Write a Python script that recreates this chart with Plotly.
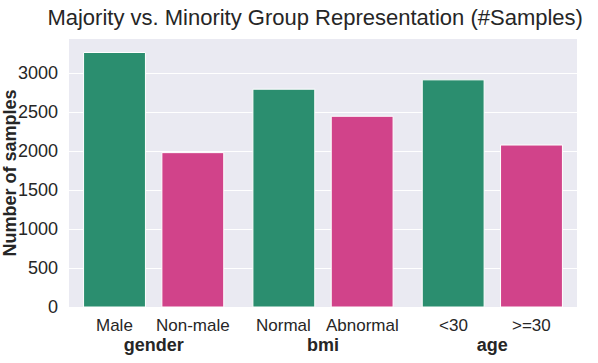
import plotly.graph_objects as go

# Attributes and their majority / minority subgroups
attributes = ['gender', 'bmi', 'age']
majority_labels = ['Male', 'Normal', '<30']
minority_labels = ['Non-male', 'Abnormal', '>=30']
majority_counts = [3265, 2794, 2914]
minority_counts = [1980, 2447, 2078]

green = '#2b8e6f'
pink = '#d1438a'
font_family = 'Arial, Liberation Sans, Helvetica, sans-serif'
text_color = '#262626'

bar_gap = 0.075
group_gap = 0.21

fig = go.Figure()

fig.add_trace(go.Bar(
    x=attributes, y=majority_counts, name='Majority',
    marker=dict(color=green, line=dict(color='white', width=1)),
))
fig.add_trace(go.Bar(
    x=attributes, y=minority_counts, name='Minority',
    marker=dict(color=pink, line=dict(color='white', width=1)),
))

# subgroup labels under each bar (offset follows the grouped-bar layout)
offset = (1 - bar_gap) / 4
annotations = []
for i, attr in enumerate(attributes):
    for lab, dx in ((majority_labels[i], -offset), (minority_labels[i], offset)):
        annotations.append(dict(
            x=i + dx, y=0, xref='x', yref='paper',
            text=lab, showarrow=False, yanchor='top', yshift=-7,
            font=dict(size=17, color=text_color, family=font_family),
        ))

fig.update_layout(
    width=598, height=363,
    margin=dict(l=69, r=21, t=39, b=56),
    paper_bgcolor='white',
    plot_bgcolor='#eaeaf2',
    barmode='group',
    bargap=bar_gap,
    bargroupgap=group_gap,
    showlegend=False,
    font=dict(family=font_family, color=text_color),
    title=dict(
        text='Majority vs. Minority Group Representation (#Samples)',
        x=0.527, xanchor='center', y=0.952, yanchor='middle',
        font=dict(size=22, color=text_color, family=font_family),
    ),
    annotations=annotations,
)

fig.update_xaxes(
    type='category',
    range=[-0.5, 2.5],
    tickvals=attributes,
    ticktext=['<b>%s</b>' % a for a in attributes],
    tickfont=dict(size=18, color=text_color),
    ticklabelstandoff=25,
    automargin=False,
    showgrid=False, zeroline=False, showline=False, ticks='',
)
fig.update_yaxes(
    range=[0, 3438],
    tickvals=[0, 500, 1000, 1500, 2000, 2500, 3000],
    tickfont=dict(size=18, color=text_color),
    ticklabelstandoff=10,
    automargin=False,
    gridcolor='white', gridwidth=1.2,
    zeroline=False, showline=False, ticks='',
    title=dict(text='<b>Number of samples</b>', font=dict(size=18, color=text_color), standoff=18),
)

# drop the default 8px body margin so the figure fills the window
fig.write_html('out.html', config={'displayModeBar': False},
               post_script="document.body.style.margin='0';")
